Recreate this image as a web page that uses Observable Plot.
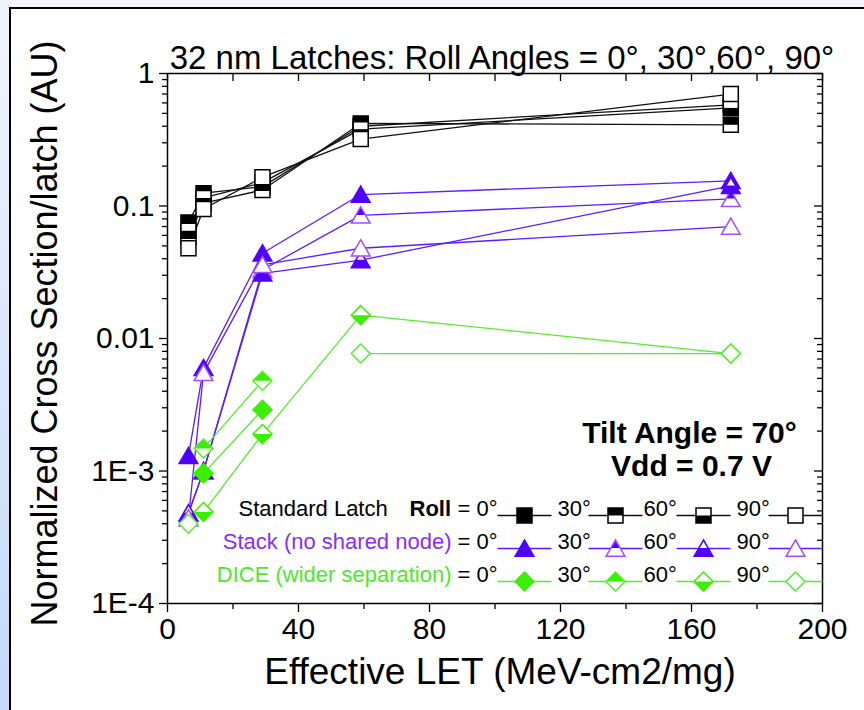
<!DOCTYPE html>
<html>
<head>
<meta charset="utf-8">
<script src="https://cdn.jsdelivr.net/npm/d3@7"></script>
<script src="https://cdn.jsdelivr.net/npm/@observablehq/plot@0.6"></script>
<style>
  body { margin: 0; background: #fff; }
  #page { position: relative; width: 864px; height: 710px; overflow: hidden; background: #fff; }
  #topband { position: absolute; left: 0; top: 0; width: 864px; height: 7px; background: #f1f4fb; }
  #edge { position: absolute; left: 0; top: 0; width: 10px; height: 710px; background: linear-gradient(#f1f5fd, #c4daf8); }
  #borderL { position: absolute; left: 9px; top: 7px; width: 2px; height: 703px; background: #000; }
  #borderT { position: absolute; left: 9px; top: 7px; width: 855px; height: 2px; background: #000; }
  #chart { position: absolute; left: 0; top: 0; }
</style>
</head>
<body>
<div id="page">
  <div id="topband"></div>
  <div id="edge"></div>
  <div id="borderL"></div>
  <div id="borderT"></div>
  <div id="chart"></div>
</div>
<script>
// Effective LET at 70° tilt (MeV-cm2/mg)
const letValues = [6.4, 11, 29, 59, 172];
const rollAngles = [0, 30, 60, 90];

// Standard latch cross sections, one list per roll angle
const standard0  = [0.075, 0.125, 0.140, 0.40, 0.58];
const standard30 = [0.058, 0.105, 0.132, 0.42, 0.41];
const standard60 = [0.065, 0.115, 0.150, 0.38, 0.55];
const standard90 = [0.048, 0.095, 0.165, 0.32, 0.70];

// Stack latch (no shared node)
const stack0  = [0.0013,  0.0060, 0.044, 0.122, 0.155];
const stack30 = [0.00048, 0.0010, 0.033, 0.085, 0.113];
const stack60 = [0.00048, 0.0010, 0.031, 0.039, 0.142];
const stack90 = [0.00044, 0.0055, 0.036, 0.048, 0.070];

// DICE latch (wider separation); NaN = no upset recorded
const dice0  = [NaN,    0.00096, 0.0029, NaN,   NaN];
const dice30 = [NaN,    0.00148, 0.0048, NaN,   NaN];
const dice60 = [NaN,    0.00049, 0.0019, 0.015, 0.0077];
const dice90 = [0.0004, NaN,     NaN,    0.0077, 0.0077];

const xTicks = [0, 40, 80, 120, 160, 200];
const xTickLabels = ["0", "40", "80", "120", "160", "200"];
const yTicks = [1e-4, 1e-3, 1e-2, 1e-1, 1];
const yTickLabels = ["1E-4", "1E-3", "0.01", "0.1", "1"];

const titleText = "32 nm Latches: Roll Angles = 0°, 30°,60°, 90°";
const xTitle = "Effective LET (MeV-cm2/mg)";
const yTitle = "Normalized Cross Section/latch (AU)";
const noteLines = ["Tilt Angle = 70°", "Vdd = 0.7 V"];

// ---- layout ----
const W = 864, H = 710;
const mL = 167, mR = 42, mT = 73, mB = 107;
const frameW = W - mL - mR, frameH = H - mT - mB;
const sans = "'Liberation Sans', Arial, Helvetica, sans-serif";

// minor ticks
const xMinor = d3.range(20, 200, 40);
const xTop = d3.range(0, 201, 20);
const yMinor = [];
for (let e = -4; e < 0; e++) for (let k = 2; k <= 9; k++) yMinor.push(k * Math.pow(10, e));

// ---- marker shapes ----
const symbolOf = pts => ({
  draw(ctx, size) {
    const r = Math.sqrt(size / Math.PI);
    const p = pts(r);
    ctx.moveTo(p[0][0], p[0][1]);
    for (let i = 1; i < p.length; i++) ctx.lineTo(p[i][0], p[i][1]);
    ctx.closePath();
  }
});
const shapes = {
  square: {
    r: 7.5,
    full: r => [[-r, -r], [r, -r], [r, r], [-r, r]],
    top: r => [[-r, -r], [r, -r], [r, 0], [-r, 0]],
    bottom: r => [[-r, 0], [r, 0], [r, r], [-r, r]]
  },
  triangle: {
    r: 8.5,
    full: r => [[0, -r], [1.1 * r, 0.9 * r], [-1.1 * r, 0.9 * r]],
    top: r => [[0, -r], [0.55 * r, -0.05 * r], [-0.55 * r, -0.05 * r]],
    bottom: r => [[-0.55 * r, -0.05 * r], [0.55 * r, -0.05 * r], [1.1 * r, 0.9 * r], [-1.1 * r, 0.9 * r]]
  },
  diamond: {
    r: 9.5,
    full: r => [[0, -r], [r, 0], [0, r], [-r, 0]],
    top: r => [[0, -r], [r, 0], [-r, 0]],
    bottom: r => [[-r, 0], [r, 0], [0, r]]
  }
};
const fillModes = ["full", "top", "bottom", "none"]; // by roll angle index

const groups = [
  {label: "Standard Latch", shape: "square", dark: "#000", light: "#000", line: "#111", text: "#000",
   series: [standard0, standard30, standard60, standard90]},
  {label: "Stack (no shared node)", shape: "triangle", dark: "#4f00ff", light: "#a44cff", line: "#5a1cff", text: "#8a2cff",
   series: [stack0, stack30, stack60, stack90]},
  {label: "DICE (wider separation)", shape: "diamond", dark: "#3af000", light: "#55ee30", line: "#55ec2c", text: "#4ee82a",
   series: [dice0, dice30, dice60, dice90]}
];

function markerMarks(data, pos, g, ai) {
  const sh = shapes[g.shape];
  const mode = fillModes[ai];
  const outline = (ai === 1 || ai === 3) ? g.light : g.dark;
  const marks = [
    Plot.dot(data, {...pos, symbol: symbolOf(sh.full), r: sh.r, fill: mode === "full" ? g.dark : "#fff", stroke: "none"})
  ];
  if (mode === "top" || mode === "bottom") {
    marks.push(Plot.dot(data, {...pos, symbol: symbolOf(sh[mode]), r: sh.r, fill: g.dark, stroke: "none"}));
  }
  marks.push(Plot.dot(data, {...pos, symbol: symbolOf(sh.full), r: sh.r, fill: "none", stroke: outline, strokeWidth: 1.5}));
  return marks;
}

// ---- data marks ----
const dataMarks = [];
groups.forEach(g => {
  g.series.forEach((vals, ai) => {
    const rows = letValues.map((x, i) => ({x, y: vals[i], roll: rollAngles[ai]}));
    dataMarks.push(Plot.line(rows, {x: "x", y: "y", stroke: g.line, strokeWidth: 1.3}));
  });
  g.series.forEach((vals, ai) => {
    const rows = letValues.map((x, i) => ({x, y: vals[i], roll: rollAngles[ai]})).filter(d => isFinite(d.y));
    dataMarks.push(...markerMarks(rows, {x: "x", y: "y"}, g, ai));
  });
});

// ---- in-plot legend (offsets from the frame's bottom-left corner) ----
const rowDy = [-88, -55, -22];
const markerDx = [357, 448, 536, 628];
const angleDx = [290, 390, 476, 569];
const hline = {draw(ctx) { ctx.moveTo(-27, 0); ctx.lineTo(27, 0); }};
const legendMarks = [];
const at = (dx, dy) => ({frameAnchor: "bottom-left", dx, dy});
groups.forEach((g, gi) => {
  const dy = rowDy[gi];
  if (gi === 0) {
    legendMarks.push(Plot.text([g.label], {...at(71, dy), text: d => d, textAnchor: "start", fontSize: 22, fill: g.text}));
    legendMarks.push(Plot.text(["Roll"], {...at(242, dy), text: d => d, textAnchor: "start", fontSize: 22, fontWeight: "bold", fill: "#000"}));
  } else {
    legendMarks.push(Plot.text([g.label], {...at(284, dy), text: d => d, textAnchor: "end", fontSize: 22, fill: g.text}));
  }
  rollAngles.forEach((a, ai) => {
    legendMarks.push(Plot.text([(ai === 0 ? "= " : "") + a + "°"], {...at(angleDx[ai], dy), text: d => d, textAnchor: "start", fontSize: 22, fill: "#000"}));
    legendMarks.push(Plot.dot([0], {...at(markerDx[ai], dy), symbol: hline, stroke: g.line, fill: "none", strokeWidth: 1.3}));
    legendMarks.push(...markerMarks([0], at(markerDx[ai], dy), g, ai));
  });
});

const chart = Plot.plot({
  width: W, height: H,
  marginLeft: mL, marginRight: mR, marginTop: mT, marginBottom: mB,
  style: {fontFamily: sans, background: "transparent", color: "#000", overflow: "visible"},
  x: {domain: [0, 200]},
  y: {type: "log", domain: [1e-4, 1]},
  marks: [
    // axes: outward ticks bottom/left, inward ticks top/right
    Plot.axisX({ticks: xTicks, tickSize: 9, tickPadding: 5, fontSize: 30, strokeWidth: 1.3, label: null,
                tickFormat: d => xTickLabels[xTicks.indexOf(d)]}),
    Plot.axisX({ticks: xMinor, tickSize: 6, strokeWidth: 1.3, label: null, tickFormat: () => ""}),
    Plot.ruleX(xTop, {insetBottom: frameH - 8, stroke: "#000", strokeWidth: 1.3}),
    Plot.axisY({ticks: yTicks, tickSize: 8, tickPadding: 5, fontSize: 30, strokeWidth: 1.3, label: null,
                tickFormat: d => yTickLabels[yTicks.indexOf(d)]}),
    Plot.axisY({ticks: yMinor, tickSize: 5, strokeWidth: 1.3, label: null, tickFormat: () => ""}),
    Plot.ruleY(yTicks, {insetLeft: frameW - 8, stroke: "#000", strokeWidth: 1.3}),
    Plot.ruleY(yMinor, {insetLeft: frameW - 5, stroke: "#000", strokeWidth: 1.3}),
    Plot.frame({stroke: "#000", strokeWidth: 1.5}),
    ...dataMarks,
    ...legendMarks,
    // conditions
    Plot.text([noteLines[0]], {frameAnchor: "bottom-right", dx: -133, dy: -161, textAnchor: "middle", text: d => d,
               fontSize: 30, fontWeight: "bold", fill: "#000"}),
    Plot.text([noteLines[1]], {frameAnchor: "bottom-right", dx: -131, dy: -128, textAnchor: "middle", text: d => d,
               fontSize: 30, fontWeight: "bold", fill: "#000"}),
    // titles
    Plot.text([titleText], {frameAnchor: "top", dx: 7, dy: -28, textAnchor: "middle", text: d => d, fontSize: 33, fill: "#000"}),
    Plot.text([xTitle], {frameAnchor: "bottom", dx: 5, dy: 80, textAnchor: "middle", text: d => d, fontSize: 37, fill: "#000"}),
    Plot.text([yTitle], {frameAnchor: "left", dx: -122, dy: -5, rotate: -90, textAnchor: "middle", text: d => d,
               fontSize: 36, fill: "#000"})
  ]
});
document.getElementById("chart").appendChild(chart);
</script>
</body>
</html>
